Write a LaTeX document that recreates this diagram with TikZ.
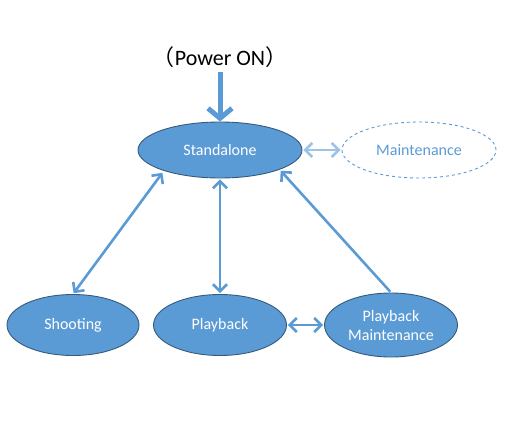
\documentclass[tikz,border=0pt]{standalone}
\usepackage{fontspec}
\setmainfont{Carlito}
\newfontfamily\cjkf{Noto Sans CJK JP}
\usetikzlibrary{arrows.meta,shapes.geometric}
\definecolor{fillb}{HTML}{5B9BD5}
\definecolor{edgeb}{HTML}{41719C}
\definecolor{lightb}{HTML}{9DC3E6}
\begin{document}
\begin{tikzpicture}[x=1pt,y=-1pt,
  state/.style={ellipse,draw=edgeb!80!black,line width=0.9pt,fill=fillb,text=white,inner sep=0pt,font=\fontsize{16}{19}\selectfont,align=center},
  conn/.style={draw=fillb,line width=2.6pt,shorten >=1pt,shorten <=1pt},
  barbtip/.tip={Straight Barb[length=7pt,width=14pt,line width=2.6pt]}
]
\useasboundingbox (0,0) rectangle (510,420);
\node[state,minimum width=164pt,minimum height=56pt] (sa) at (220,150) {Standalone};
\node[ellipse,draw=fillb,dashed,line width=0.9pt,text=fillb,minimum width=154pt,minimum height=56pt,font=\fontsize{16}{19}\selectfont] (mt) at (419,150) {Maintenance};
\node[state,minimum width=132pt,minimum height=61pt] (sh) at (73,325) {Shooting};
\node[state,minimum width=133pt,minimum height=61pt] (pb) at (220,325) {Playback};
\node[state,minimum width=133pt,minimum height=64pt] (pm) at (391,325) {Playback\\Maintenance};
\node[font=\fontsize{22}{24}\selectfont] (pw) at (220,57) {{\cjkf （}Power ON{\cjkf ）}};
\coordinate (pwb) at (220,72);
\coordinate (saL) at (163,172);
\coordinate (saR) at (280,170);
\draw[draw=fillb,line width=5pt,-{Straight Barb[length=10pt,width=24pt,line width=5pt]}] (pwb) -- (sa.north);
\draw[draw=lightb,line width=2.6pt,shorten >=1pt,shorten <=1pt,{barbtip}-{barbtip}] (sa.east) -- (mt.west);
\draw[conn,{barbtip}-{barbtip}] (saL) -- (sh.north);
\draw[conn,{barbtip}-{barbtip}] (sa.south) -- (pb.north);
\draw[conn,-{barbtip}] (pm.north) -- (saR);
\draw[conn,{barbtip}-{barbtip}] (pb.east) -- (pm.west);
\end{tikzpicture}
\end{document}
